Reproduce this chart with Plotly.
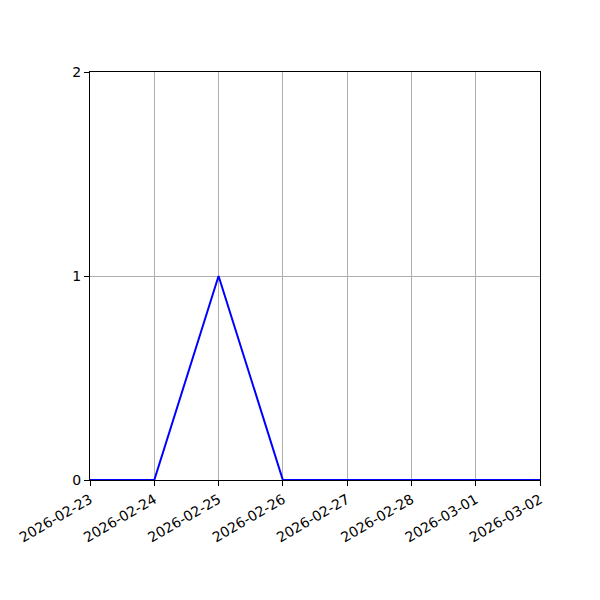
import plotly.graph_objects as go

# daily counts
dates = ["2026-02-23", "2026-02-24", "2026-02-25", "2026-02-26",
         "2026-02-27", "2026-02-28", "2026-03-01", "2026-03-02"]
counts = [0, 0, 1, 0, 0, 0, 0, 0]
y_ticks = [0, 1, 2]

fig = go.Figure()
fig.add_trace(
    go.Scatter(
        x=dates,
        y=counts,
        mode="lines",
        line=dict(color="#0000ff", width=2),
        showlegend=False,
    )
)

axis_common = dict(
    showline=True,
    linecolor="black",
    linewidth=1.2,
    mirror=True,
    ticks="outside",
    ticklen=5,
    tickwidth=1,
    tickcolor="black",
    showgrid=True,
    gridcolor="#b0b0b0",
    gridwidth=1,
    zeroline=False,
    automargin=False,
)

# page body adds 8px, so margins are shifted to compensate
fig.update_layout(
    width=600,
    height=600,
    margin=dict(l=82, r=68, t=64, b=128),
    plot_bgcolor="white",
    paper_bgcolor="white",
    font=dict(family="DejaVu Sans", size=14, color="black"),
    xaxis=dict(
        axis_common,
        type="date",
        range=[dates[0], dates[-1]],
        tickvals=dates,
        ticktext=dates,
        tickangle=-30,
    ),
    yaxis=dict(
        axis_common,
        range=[0, 2],
        tickvals=y_ticks,
    ),
)

fig.write_html("out.html")
